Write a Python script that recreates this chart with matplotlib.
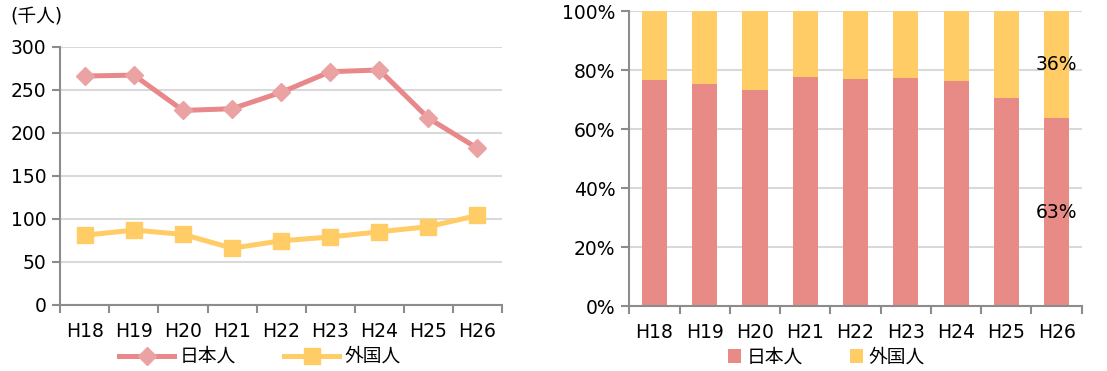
import matplotlib
matplotlib.use("Agg")
import matplotlib.pyplot as plt
import numpy as np

plt.rcParams['font.family'] = ['DejaVu Sans', 'Noto Sans CJK JP']

# 年度と人数（千人）
nendo = ["H18", "H19", "H20", "H21", "H22", "H23", "H24", "H25", "H26"]
nihonjin = [266, 267, 226, 228, 247, 271, 273, 217, 182]
gaikokujin = [81, 87, 82, 66, 74.5, 79, 85, 91, 104]

# 構成比（%）
total = np.array(nihonjin) + np.array(gaikokujin)
ratio_jp = np.array(nihonjin) / total * 100
ratio_fg = np.array(gaikokujin) / total * 100

col_jp_line = "#E8888A"
col_jp_mark = "#EBA2A2"
col_fg = "#FFCC66"
col_jp_bar = "#E88B86"
grid_col = "#D9D9D9"
axis_col = "#8C8C8C"
fs = 13.5

fig = plt.figure(figsize=(11.07, 3.71), dpi=100)
ax1 = fig.add_axes([0.0545, 0.178, 0.399, 0.696])
ax2 = fig.add_axes([0.5685, 0.175, 0.4087, 0.795])

x = np.arange(len(nendo))

def style_axes(ax):
    for s in ["top", "right"]:
        ax.spines[s].set_visible(False)
    for s in ["left", "bottom"]:
        ax.spines[s].set_color(axis_col)
        ax.spines[s].set_linewidth(1.5)
    ax.set_axisbelow(True)
    ax.grid(axis="y", color=grid_col, linewidth=1.5)
    ax.set_xlim(-0.5, len(nendo) - 0.5)
    ax.set_xticks(x)
    ax.set_xticklabels(nendo)
    ax.set_xticks(np.arange(-0.5, len(nendo)), minor=True)
    ax.tick_params(axis="x", which="major", length=0, labelsize=fs, pad=12)
    ax.tick_params(axis="x", which="minor", length=6, width=1.5, color=axis_col)
    ax.tick_params(axis="y", length=6, width=1.5, color=axis_col, labelsize=fs, pad=4)

# 左：人数の推移
ax1.plot(x, nihonjin, color=col_jp_line, linewidth=3.6, marker="D", markersize=9,
         markerfacecolor=col_jp_mark, markeredgecolor=col_jp_mark, label="日本人")
ax1.plot(x, gaikokujin, color=col_fg, linewidth=3.6, marker="s", markersize=12,
         markerfacecolor=col_fg, markeredgecolor=col_fg, label="外国人")
ax1.set_ylim(0, 300)
ax1.set_yticks(range(0, 301, 50))
style_axes(ax1)
ax1.legend(loc="center", bbox_to_anchor=(0.452, -0.2), ncol=2, frameon=False,
           fontsize=fs, handlelength=2.9, columnspacing=2.6, handletextpad=0.3)
fig.text(0.009, 0.954, "(千人)", fontsize=fs, ha="left", va="center")

# 右：構成比
ax2.bar(x, ratio_jp, width=0.5, color=col_jp_bar, label="日本人")
ax2.bar(x, ratio_fg, width=0.5, bottom=ratio_jp, color=col_fg, label="外国人")
ax2.set_ylim(0, 100)
ax2.set_yticks(range(0, 101, 20))
ax2.set_yticklabels([f"{v}%" for v in range(0, 101, 20)])
style_axes(ax2)
ax2.spines["left"].set_zorder(3)

last = len(nendo) - 1
ax2.text(x[last], ratio_jp[last] / 2, f"{int(ratio_jp[last])}%", ha="center", va="center", fontsize=fs)
ax2.text(x[last], ratio_jp[last] + ratio_fg[last] / 2, f"{int(ratio_fg[last])}%",
         ha="center", va="center", fontsize=fs)
ax2.legend(loc="center", bbox_to_anchor=(0.435, -0.173), ncol=2, frameon=False,
           fontsize=fs, handlelength=0.7, handleheight=0.7, columnspacing=2.5, handletextpad=0.3)

fig.savefig("out.png", dpi=100)
